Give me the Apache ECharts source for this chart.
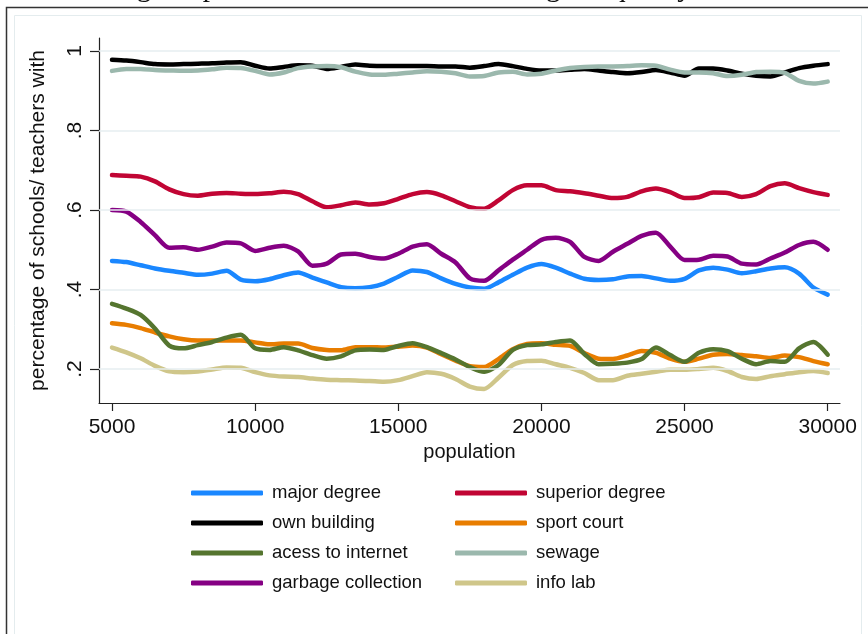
<!DOCTYPE html>
<html>
<head>
<meta charset="utf-8">
<script src="https://cdn.jsdelivr.net/npm/echarts@6/dist/echarts.min.js"></script>
<style>
  html, body { margin: 0; padding: 0; background: #fff; }
  #chart { width: 868px; height: 634px; }
</style>
</head>
<body>
<div id="chart"></div>
<script>
// Population sizes (x axis), sampled every 500 inhabitants
const population = [
  5000, 5500, 6000, 6500, 7000, 7500, 8000, 8500, 9000, 9500,
  10000, 10500, 11000, 11500, 12000, 12500, 13000, 13500, 14000, 14500,
  15000, 15500, 16000, 16500, 17000, 17500, 18000, 18500, 19000, 19500,
  20000, 20500, 21000, 21500, 22000, 22500, 23000, 23500, 24000, 24500,
  25000, 25500, 26000, 26500, 27000, 27500, 28000, 28500, 29000, 29500, 30000
];

const xTicks = [5000, 10000, 15000, 20000, 25000, 30000];
const yTicks = [0.2, 0.4, 0.6, 0.8, 1];

const majorDegree = [
  .472, .469, .461, .453, .447, .442, .437, .440, .447, .425,
  .421, .426, .436, .443, .430, .418, .406, .403, .406, .415,
  .432, .448, .444, .428, .414, .405, .402, .418, .437, .455,
  .464, .455, .440, .427, .424, .426, .433, .434, .428, .422,
  .427, .448, .455, .450, .441, .446, .453, .456, .440, .405, .387
];
const superiorDegree = [
  .688, .686, .684, .672, .652, .640, .636, .641, .643, .641,
  .640, .642, .646, .640, .622, .607, .612, .619, .614, .617,
  .628, .640, .645, .637, .622, .607, .603, .624, .650, .662,
  .662, .650, .647, .642, .636, .630, .633, .647, .654, .645,
  .630, .632, .644, .643, .633, .640, .660, .667, .655, .645, .638
];
const ownBuilding = [
  .978, .976, .972, .967, .966, .967, .968, .969, .971, .972,
  .963, .956, .960, .964, .963, .955, .960, .966, .963, .962,
  .962, .962, .962, .961, .961, .958, .962, .967, .962, .955,
  .951, .951, .953, .955, .951, .947, .944, .947, .952, .946,
  .938, .956, .956, .951, .943, .938, .936, .946, .957, .963, .967
];
const sportCourt = [
  .315, .311, .303, .292, .282, .275, .272, .272, .272, .272,
  .267, .262, .264, .264, .253, .248, .247, .255, .255, .254,
  .256, .259, .254, .237, .221, .207, .205, .225, .250, .263,
  .265, .261, .258, .240, .226, .225, .234, .245, .241, .226,
  .218, .226, .236, .238, .235, .232, .228, .234, .230, .220, .212
];
const internetAccess = [
  .364, .352, .336, .302, .259, .252, .260, .268, .279, .286,
  .252, .248, .255, .247, .235, .226, .232, .247, .249, .248,
  .258, .265, .255, .240, .224, .205, .193, .210, .248, .260,
  .262, .268, .272, .238, .212, .213, .216, .225, .254, .235,
  .218, .241, .250, .245, .226, .212, .220, .218, .252, .268, .236
];
const sewage = [
  .950, .955, .955, .952, .951, .950, .951, .954, .958, .957,
  .950, .941, .946, .957, .961, .962, .959, .948, .941, .940,
  .943, .946, .949, .948, .944, .936, .937, .946, .948, .941,
  .943, .951, .957, .960, .961, .961, .962, .964, .963, .953,
  .946, .946, .944, .937, .940, .947, .948, .945, .925, .918, .923
];
const garbageCollection = [
  .600, .596, .570, .537, .505, .506, .500, .508, .518, .516,
  .497, .505, .510, .496, .460, .465, .488, .490, .482, .478,
  .490, .508, .514, .490, .468, .428, .422, .448, .475, .500,
  .525, .530, .520, .482, .472, .495, .515, .535, .543, .508,
  .474, .475, .485, .483, .465, .463, .478, .493, .512, .520, .500
];
const infoLab = [
  .254, .242, .227, .208, .194, .192, .194, .199, .204, .203,
  .192, .184, .181, .180, .176, .173, .172, .171, .170, .168,
  .172, .182, .192, .188, .175, .156, .150, .178, .210, .220,
  .221, .212, .203, .190, .172, .172, .183, .188, .193, .198,
  .198, .200, .203, .195, .180, .175, .182, .187, .192, .195, .190
];

// Drawing order: later series sit on top of earlier ones
const seriesDefs = [
  { name: 'major degree', values: majorDegree, color: '#1a87ff' },
  { name: 'superior degree', values: superiorDegree, color: '#c10534' },
  { name: 'own building', values: ownBuilding, color: '#000000' },
  { name: 'sport court', values: sportCourt, color: '#e87d00' },
  { name: 'acess to internet', values: internetAccess, color: '#55752f' },
  { name: 'sewage', values: sewage, color: '#9bb8ad' },
  { name: 'garbage collection', values: garbageCollection, color: '#850083' },
  { name: 'info lab', values: infoLab, color: '#cfc68a' }
];

const legendLeft = ['major degree', 'own building', 'acess to internet', 'garbage collection'];
const legendRight = ['superior degree', 'sport court', 'sewage', 'info lab'];

const FONT = 'Liberation Sans, Arial, sans-serif';

const chart = echarts.init(document.getElementById('chart'), null, { renderer: 'canvas' });

const lineSeries = seriesDefs.map(d => ({
  name: d.name,
  type: 'line',
  data: population.map((p, i) => [p, d.values[i]]),
  showSymbol: false,
  smooth: 0.25,
  lineStyle: { color: d.color, width: 4.5, cap: 'round', join: 'round' },
  itemStyle: { color: d.color },
  emphasis: { disabled: true },
  z: 3
}));

// Horizontal grid lines at the labelled y values
const gridSeries = {
  type: 'line',
  data: [],
  silent: true,
  z: 1,
  markLine: {
    silent: true,
    symbol: 'none',
    label: { show: false },
    lineStyle: { color: '#e6eef1', width: 1.5, type: 'solid' },
    data: yTicks.map(v => ({ yAxis: v }))
  }
};

const legendCommon = {
  orient: 'vertical',
  top: 483,
  padding: 0,
  itemWidth: 72,
  itemHeight: 5,
  itemGap: 10,
  icon: 'roundRect',
  selectedMode: false,
  textStyle: { fontFamily: FONT, fontSize: 18.5, color: '#111', lineHeight: 20, padding: [0, 0, 0, 4] }
};

chart.setOption({
  animation: false,
  backgroundColor: '#ffffff',
  graphic: [
    {
      type: 'rect', silent: true, z: 0,
      shape: { x: 6.5, y: 7.5, width: 880, height: 660 },
      style: { fill: null, stroke: '#333333', lineWidth: 1.5 }
    },
    {
      type: 'rect', silent: true, z: 0,
      shape: { x: 14.5, y: 15.5, width: 847, height: 640 },
      style: { fill: null, stroke: '#e4ecee', lineWidth: 1 }
    },
    {
      type: 'text', silent: true, z: 0,
      x: 37, y: 3,
      style: {
        text: 'Percentage of public schools/ teachers with good quality',
        font: '29px "Liberation Serif", "DejaVu Serif", serif',
        fill: '#111',
        textAlign: 'left',
        textVerticalAlign: 'bottom'
      }
    }
  ],
  grid: { left: 99, right: 28, top: 38, height: 365, containLabel: false },
  xAxis: {
    type: 'value',
    min: 4546,
    max: 30430,
    name: 'population',
    nameLocation: 'middle',
    nameGap: 39,
    nameTextStyle: { fontFamily: FONT, fontSize: 20, color: '#111' },
    axisLine: { show: true, onZero: false, lineStyle: { color: '#222', width: 1.2 } },
    axisTick: { show: true, length: 8, customValues: xTicks, lineStyle: { color: '#222', width: 1.2 } },
    axisLabel: {
      customValues: xTicks, margin: 14, fontFamily: FONT, fontSize: 21, color: '#111',
      formatter: v => String(Math.round(v))
    },
    splitLine: { show: false }
  },
  yAxis: {
    type: 'value',
    min: 0.1145,
    max: 1.0327,
    name: 'percentage of schools/ teachers with',
    nameLocation: 'middle',
    nameGap: 50,
    nameRotate: 90,
    nameTextStyle: { fontFamily: FONT, fontSize: 21, color: '#111' },
    axisLine: { show: true, onZero: false, lineStyle: { color: '#222', width: 1.2 } },
    axisTick: { show: true, length: 9, customValues: yTicks, lineStyle: { color: '#222', width: 1.2 } },
    axisLabel: {
      customValues: yTicks,
      rotate: 90,
      margin: 13,
      fontFamily: FONT,
      fontSize: 21,
      color: '#111',
      formatter: v => (Math.abs(v - 1) < 1e-9 ? '1' : '.' + Math.round(v * 10))
    },
    splitLine: { show: false }
  },
  legend: [
    Object.assign({}, legendCommon, { left: 191, data: legendLeft }),
    Object.assign({}, legendCommon, { left: 455, data: legendRight })
  ],
  series: [gridSeries].concat(lineSeries)
});
</script>
</body>
</html>
